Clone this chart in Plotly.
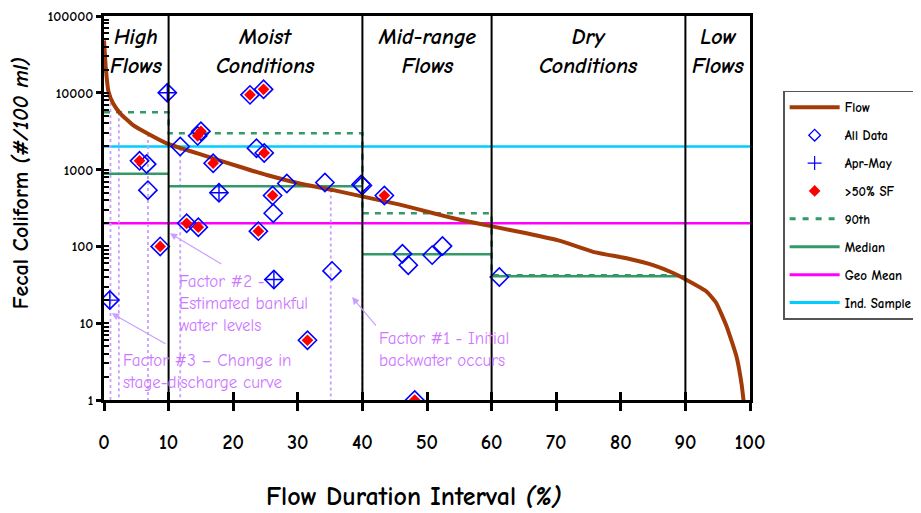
import plotly.graph_objects as go

# Flow duration curve
FLOW_X = [0, 0.3, 0.7, 1.4, 2.5, 4.5, 6.6, 9.7, 12.8, 16.9, 21.0, 25.2, 30.3, 35.5, 40.1,
          45.8, 51.0, 55.1, 60.3, 65.4, 70.6, 75.7, 80.9, 85.0, 88.1, 90.2, 93.3, 94.8,
          96.4, 97.9, 98.7, 99.2]
FLOW_Y = [48000, 19800, 10300, 7300, 5400, 3800, 3000, 2200, 1800, 1400, 1090, 850, 660,
          540, 445, 350, 270, 222, 181, 148, 118, 85, 70, 57, 45, 36.5, 25.7, 18.2,
          9, 3.7, 1.6, 0.7]

# Observations
ALL_X = [0.9, 5.5, 6.6, 6.8, 8.7, 9.8, 11.8, 12.8, 14.6, 14.5, 15.0, 16.9, 17.8, 22.6,
         24.7, 23.6, 24.8, 23.9, 26.1, 26.2, 26.3, 28.3, 31.5, 34.2, 35.3, 39.8, 40.0,
         43.4, 46.2, 47.1, 48.1, 50.8, 52.4, 61.2]
ALL_Y = [20, 1300, 1180, 540, 100, 10000, 2000, 200, 178, 2750, 3150, 1210, 500, 9400,
         11100, 1900, 1650, 158, 460, 270, 37, 660, 6, 680, 48, 640, 620,
         460, 80, 57, 1, 77, 101, 40]
APR_MAY_X = [0.9, 9.8, 17.8, 26.3]
APR_MAY_Y = [20, 10000, 500, 37]
SF50_X = [5.5, 8.7, 12.8, 14.6, 14.5, 15.0, 16.9, 22.6, 24.7, 24.8, 23.9, 26.1, 31.5, 43.4, 48.1]
SF50_Y = [1300, 100, 200, 178, 2750, 3150, 1210, 9400, 11100, 1650, 158, 460, 6, 460, 1]

# Zone statistics
ZONE_BOUNDS = [0, 10, 40, 60, 90]
ZONE_ENDS = [10, 40, 60, 90]
P90 = [5600, 2970, 270, 42]
MEDIAN = [880, 605, 79, 41]
GEO_MEAN = 200
IND_SAMPLE = 2000

ZONE_NAMES = ["High<br>Flows", "Moist<br>Conditions", "Mid-range<br>Flows",
              "Dry<br>Conditions", "Low<br>Flows"]
ZONE_CENTERS = [5, 25, 50, 75, 95]

X_TICKS = [0, 10, 20, 30, 40, 50, 60, 70, 80, 90, 100]
Y_TICKS = [1, 10, 100, 1000, 10000, 100000]

# dotted drop lines from the curve
DROP_X = [1.0, 2.3, 6.8, 11.8, 35.1, 40.0]
DROP_Y = [8800, 5600, 2900, 1900, 550, 450]

FONT = "Comic Sans MS, Comic Neue, DejaVu Sans, sans-serif"
BROWN = "#A33B08"
GREEN = "#339966"
BLUE = "#0000FF"
PURPLE = "#CC77FF"
PURPLE_LINE = "#C9A0FF"

fig = go.Figure()

# step line for 90th, segments for median
p90_x, p90_y = [], []
med_x, med_y = [], []
for x0, x1, p, m in zip(ZONE_BOUNDS, ZONE_ENDS, P90, MEDIAN):
    p90_x += [x0, x1]
    p90_y += [p, p]
    med_x += [x0, x1, None]
    med_y += [m, m, None]

fig.add_trace(go.Scatter(x=[0, 100], y=[IND_SAMPLE, IND_SAMPLE], mode="lines",
                         line=dict(color="#00CCFF", width=2.5), showlegend=False, hoverinfo="skip"))
fig.add_trace(go.Scatter(x=[0, 100], y=[GEO_MEAN, GEO_MEAN], mode="lines",
                         line=dict(color="#FF00FF", width=2.5), showlegend=False, hoverinfo="skip"))

for dx, dy in zip(DROP_X, DROP_Y):
    fig.add_trace(go.Scatter(x=[dx, dx], y=[dy, 0.8], mode="lines",
                             line=dict(color=PURPLE_LINE, width=1.8, dash="dot"),
                             showlegend=False, hoverinfo="skip"))

fig.add_trace(go.Scatter(x=med_x, y=med_y, mode="lines",
                         line=dict(color=GREEN, width=2.5), showlegend=False))
fig.add_trace(go.Scatter(x=p90_x, y=p90_y, mode="lines",
                         line=dict(color=GREEN, width=2.5, dash="6px,6px"), showlegend=False))

# zone boundaries
for b in ZONE_BOUNDS[1:]:
    fig.add_shape(type="line", x0=b, x1=b, y0=0, y1=1, xref="x", yref="paper",
                  line=dict(color="black", width=2))

fig.add_trace(go.Scatter(x=FLOW_X, y=FLOW_Y, mode="lines",
                         line=dict(color=BROWN, width=4, shape="spline", smoothing=0.4),
                         showlegend=False))

fig.add_trace(go.Scatter(x=ALL_X, y=ALL_Y, mode="markers",
                         marker=dict(symbol="diamond-open", size=14, color=BLUE,
                                     line=dict(width=1.6, color=BLUE)),
                         showlegend=False))
fig.add_trace(go.Scatter(x=APR_MAY_X, y=APR_MAY_Y, mode="markers",
                         marker=dict(symbol="cross-thin-open", size=13, color=BLUE,
                                     line=dict(width=1.4, color=BLUE)),
                         showlegend=False))
fig.add_trace(go.Scatter(x=SF50_X, y=SF50_Y, mode="markers",
                         marker=dict(symbol="diamond", size=9, color="#FF0000",
                                     line=dict(width=0)),
                         showlegend=False))

# legend-only entries
legend_items = [
    ("Flow", dict(mode="lines", line=dict(color=BROWN, width=4))),
    ("All Data", dict(mode="markers", marker=dict(symbol="diamond-open", size=9, color=BLUE,
                                                   line=dict(width=1.3, color=BLUE)))),
    ("Apr-May", dict(mode="markers", marker=dict(symbol="cross-thin-open", size=10, color=BLUE,
                                                  line=dict(width=1.2, color=BLUE)))),
    (">50% SF", dict(mode="markers", marker=dict(symbol="diamond", size=9, color="#FF0000"))),
    ("90th", dict(mode="lines", line=dict(color=GREEN, width=3, dash="6px,7px"))),
    ("Median", dict(mode="lines", line=dict(color=GREEN, width=3))),
    ("Geo Mean", dict(mode="lines", line=dict(color="#FF00FF", width=3))),
    ("Ind. Sample", dict(mode="lines", line=dict(color="#00CCFF", width=3))),
]
for i, (name, kw) in enumerate(legend_items):
    fig.add_trace(go.Scatter(x=[None], y=[None], name=f"<b>{name}</b>", legendgroup=f"g{i}", **kw))

# overlay axes for the inside tick marks (major + minor decades)
fig.add_trace(go.Scatter(x=[None], y=[None], xaxis="x2", yaxis="y2", showlegend=False))
inside_y = [m * 10 ** k for k in range(5) for m in range(1, 10)] + [100000]

# zone labels
for name, cx in zip(ZONE_NAMES, ZONE_CENTERS):
    fig.add_annotation(x=cx, y=0.985, xref="x", yref="paper", text=f"<b><i>{name}</i></b>",
                       showarrow=False, xanchor="center", yanchor="top", align="center",
                       font=dict(family=FONT, size=22, color="black"))

# factor notes
notes = [
    ("Factor #2 -<br>Estimated bankful<br>water levels", 11.3, 1.69, (10.2, 2.17), (18.4, 1.76)),
    ("Factor #3 – Change in<br>stage-discharge curve", 2.6, 0.66, (1.2, 1.13), (9.75, 0.72)),
    ("Factor #1 - Initial<br>backwater occurs", 42.3, 0.95, (38.4, 1.34), (42.3, 0.95)),
]
for text, tx, ty, head, tail in notes:
    fig.add_annotation(x=tx, y=ty, xref="x", yref="y", text=text, showarrow=False,
                       xanchor="left", yanchor="top", align="left",
                       font=dict(family=FONT, size=17, color=PURPLE))
    fig.add_annotation(x=head[0], y=head[1], ax=tail[0], ay=tail[1], xref="x", yref="y",
                       axref="x", ayref="y", text="", showarrow=True, arrowhead=2,
                       arrowsize=1.2, arrowwidth=1.2, arrowcolor=PURPLE_LINE)

# axis titles
fig.add_annotation(x=0.48, y=-0.253, xref="paper", yref="paper",
                   text="<b>Flow Duration Interval <i>(%)</i></b>", showarrow=False,
                   xanchor="center", yanchor="middle",
                   font=dict(family=FONT, size=26, color="black"))
fig.add_annotation(x=-0.128, y=0.565, xref="paper", yref="paper", textangle=-90,
                   text="<b>Fecal Coliform <i>(#/100 ml)</i></b>", showarrow=False,
                   xanchor="center", yanchor="middle",
                   font=dict(family=FONT, size=22, color="black"))

# the page adds an 8px body margin, so the figure is 8px smaller than the window
fig.update_layout(
    width=913, height=505,
    margin=dict(l=96, r=171, t=8, b=113),
    plot_bgcolor="white", paper_bgcolor="white",
    font=dict(family=FONT, color="black"),
    showlegend=True,
    legend=dict(xref="container", yref="container", x=0.849, y=0.836,
                xanchor="left", yanchor="top",
                bgcolor="white", bordercolor="#555555", borderwidth=1.5,
                font=dict(family=FONT, size=13, color="black"),
                tracegroupgap=8, itemwidth=50),
    xaxis=dict(range=[0, 100], tickvals=X_TICKS, ticktext=[f"<b>{v}</b>" for v in X_TICKS],
               showgrid=False, zeroline=False, automargin=False,
               showline=True, linecolor="black", linewidth=3, mirror=True,
               ticks="outside", ticklen=8, tickwidth=2.5, tickcolor="black",
               ticklabelstandoff=14,
               tickfont=dict(family=FONT, size=20, color="black")),
    yaxis=dict(type="log", range=[0, 5], tickvals=Y_TICKS,
               ticktext=[f"<b>{v}</b>" for v in Y_TICKS],
               showgrid=False, zeroline=False, automargin=False,
               ticklabeloverflow="allow",
               showline=True, linecolor="black", linewidth=3, mirror=True,
               ticks="outside", ticklen=5, tickwidth=2.5, tickcolor="black",
               tickfont=dict(family=FONT, size=14, color="black")),
    xaxis2=dict(range=[0, 100], tickvals=X_TICKS, overlaying="x", anchor="y2", side="bottom",
                automargin=False,
                showgrid=False, zeroline=False, showline=False, showticklabels=False,
                ticks="inside", ticklen=8, tickwidth=2.5, tickcolor="black"),
    yaxis2=dict(type="log", range=[0, 5], tickvals=inside_y, overlaying="y", anchor="x2",
                side="left", automargin=False,
                showgrid=False, zeroline=False, showline=False, showticklabels=False,
                ticks="inside", ticklen=5, tickwidth=1.8, tickcolor="black"),
)

fig.write_html("out.html")
